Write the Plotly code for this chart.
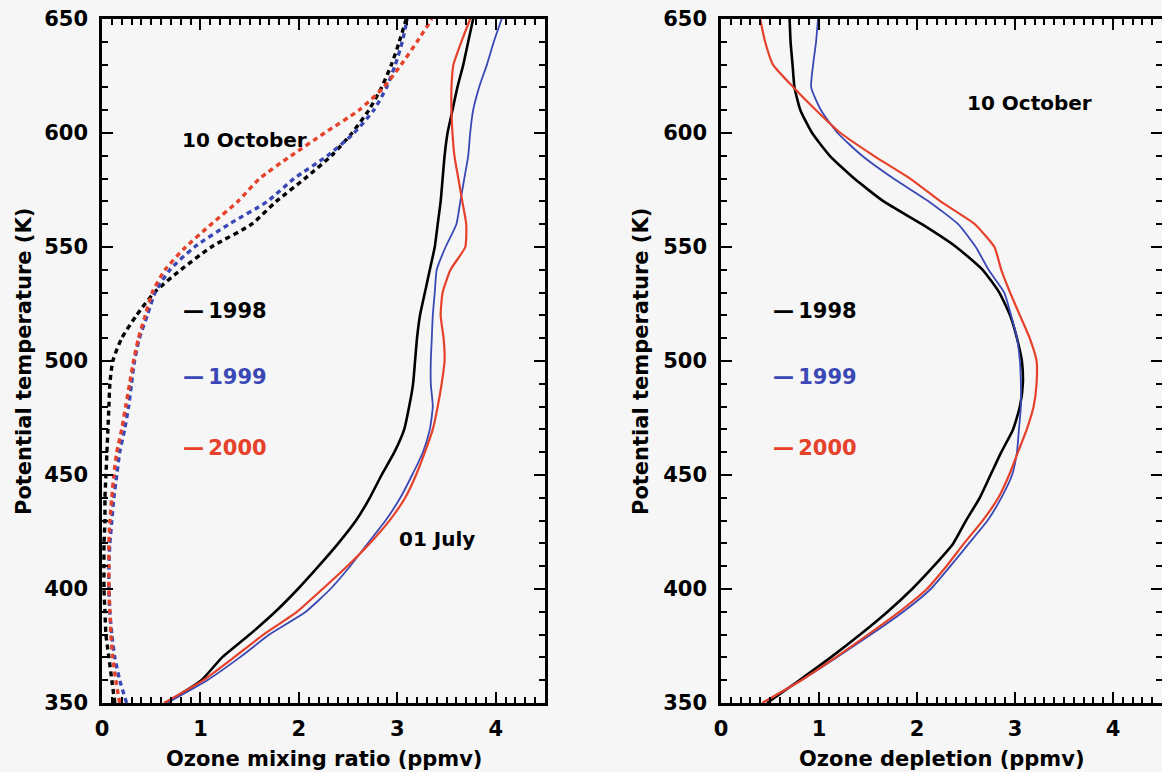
import plotly.graph_objects as go

# Potential temperature levels (K)
theta = [350, 360, 370, 380, 390, 400, 410, 420, 430, 440, 450, 460, 470, 480, 490,
         500, 510, 520, 530, 540, 550, 560, 570, 580, 590, 600, 610, 620, 630, 640, 650]

# Left panel: ozone mixing ratio (ppmv), 10 October (dotted)
oct_1998 = [0.13, 0.10, 0.07, 0.04, 0.03, 0.02, 0.02, 0.02, 0.03, 0.03, 0.04, 0.05, 0.06, 0.07, 0.08,
            0.11, 0.20, 0.35, 0.53, 0.80, 1.11, 1.52, 1.77, 2.06, 2.33, 2.54, 2.71, 2.84, 2.94, 3.02, 3.09]
oct_1999 = [0.25, 0.18, 0.13, 0.10, 0.08, 0.07, 0.07, 0.08, 0.10, 0.12, 0.15, 0.18, 0.23, 0.27, 0.30,
            0.33, 0.38, 0.46, 0.54, 0.69, 0.94, 1.29, 1.68, 1.95, 2.29, 2.56, 2.76, 2.89, 2.98, 3.05, 3.10]
oct_2000 = [0.18, 0.14, 0.11, 0.09, 0.08, 0.07, 0.07, 0.07, 0.08, 0.10, 0.12, 0.15, 0.20, 0.24, 0.28,
            0.32, 0.37, 0.44, 0.51, 0.64, 0.85, 1.11, 1.38, 1.60, 1.92, 2.26, 2.61, 2.86, 3.04, 3.20, 3.35]

# Left panel: 01 July (solid)
jul_1998 = [0.65, 1.01, 1.22, 1.50, 1.76, 1.99, 2.20, 2.40, 2.58, 2.72, 2.84, 2.97, 3.07, 3.12, 3.16,
            3.18, 3.20, 3.23, 3.28, 3.33, 3.38, 3.41, 3.44, 3.46, 3.48, 3.51, 3.56, 3.61, 3.67, 3.72, 3.77]
jul_1999 = [0.66, 1.07, 1.40, 1.70, 2.07, 2.32, 2.52, 2.70, 2.88, 3.03, 3.15, 3.26, 3.33, 3.36, 3.34,
            3.34, 3.35, 3.36, 3.38, 3.40, 3.49, 3.60, 3.64, 3.68, 3.72, 3.74, 3.77, 3.83, 3.91, 3.98, 4.06]
jul_2000 = [0.63, 1.03, 1.34, 1.64, 1.98, 2.24, 2.49, 2.72, 2.92, 3.08, 3.19, 3.28, 3.36, 3.41, 3.45,
            3.48, 3.47, 3.44, 3.46, 3.54, 3.69, 3.70, 3.66, 3.62, 3.58, 3.56, 3.55, 3.55, 3.57, 3.65, 3.74]

# Right panel: ozone depletion (ppmv)
dep_1998 = [0.47, 0.80, 1.12, 1.42, 1.70, 1.95, 2.17, 2.37, 2.50, 2.64, 2.75, 2.86, 2.98, 3.05, 3.08,
            3.07, 3.02, 2.95, 2.84, 2.67, 2.40, 2.05, 1.66, 1.36, 1.11, 0.93, 0.81, 0.75, 0.73, 0.71, 0.70]
dep_1999 = [0.42, 0.82, 1.18, 1.53, 1.86, 2.14, 2.34, 2.53, 2.72, 2.86, 2.97, 3.02, 3.04, 3.06, 3.06,
            3.05, 3.02, 2.96, 2.89, 2.73, 2.60, 2.42, 2.12, 1.76, 1.44, 1.19, 1.02, 0.92, 0.94, 0.97, 0.99]
dep_2000 = [0.42, 0.82, 1.17, 1.50, 1.82, 2.10, 2.30, 2.48, 2.67, 2.83, 2.94, 3.03, 3.12, 3.19, 3.22,
            3.22, 3.15, 3.05, 2.95, 2.86, 2.79, 2.59, 2.24, 1.93, 1.56, 1.22, 0.97, 0.74, 0.53, 0.45, 0.40]

years = ["1998", "1999", "2000"]
colors = {"1998": "#000000", "1999": "#3a48b5", "2000": "#e5412b"}
widths = {"1998": 2.6, "1999": 1.8, "2000": 2.2}

FONT = "DejaVu Sans"
W, H = 1162, 772

fig = go.Figure()

oct_series = {"1998": oct_1998, "1999": oct_1999, "2000": oct_2000}
jul_series = {"1998": jul_1998, "1999": jul_1999, "2000": jul_2000}
dep_series = {"1998": dep_1998, "1999": dep_1999, "2000": dep_2000}

for y in years:
    fig.add_trace(go.Scatter(x=oct_series[y], y=theta, mode="lines", xaxis="x", yaxis="y",
                             line=dict(color=colors[y], width=3.4, dash="5px,4px",
                                       shape="spline", smoothing=0.6),
                             showlegend=False))
for y in years:
    fig.add_trace(go.Scatter(x=jul_series[y], y=theta, mode="lines", xaxis="x", yaxis="y",
                             line=dict(color=colors[y], width=widths[y], shape="spline", smoothing=0.5),
                             showlegend=False))
for y in years:
    fig.add_trace(go.Scatter(x=dep_series[y], y=theta, mode="lines", xaxis="x2", yaxis="y2",
                             line=dict(color=colors[y], width=widths[y], shape="spline", smoothing=0.5),
                             showlegend=False))

tickfont = dict(family=FONT, size=21, color="black", weight="bold")

def xaxis_cfg(domain, anchor):
    return dict(domain=domain, anchor=anchor, range=[0, 4.5], tickvals=[0, 1, 2, 3, 4],
                ticks="inside", ticklen=11, tickwidth=2, tickcolor="black",
                minor=dict(ticks="inside", ticklen=6, tickwidth=1.6, tickcolor="black", dtick=0.1,
                           showgrid=False),
                showline=True, linecolor="black", linewidth=2.5, mirror="ticks",
                showgrid=False, zeroline=False, tickfont=tickfont, ticklabelstandoff=5,
                automargin=False)

def yaxis_cfg(domain, anchor):
    return dict(domain=domain, anchor=anchor, range=[350, 650], tickvals=[350, 400, 450, 500, 550, 600, 650],
                ticks="inside", ticklen=11, tickwidth=2, tickcolor="black",
                minor=dict(ticks="inside", ticklen=6, tickwidth=1.6, tickcolor="black", dtick=10,
                           showgrid=False),
                showline=True, linecolor="black", linewidth=2.5, mirror="ticks",
                showgrid=False, zeroline=False, tickfont=tickfont, ticklabelstandoff=7,
                automargin=False)

ydom = [1 - 703 / H, 1 - 19 / H]
fig.update_layout(
    width=W, height=H, autosize=False,
    margin=dict(l=0, r=0, t=0, b=0, pad=0, autoexpand=False),
    paper_bgcolor="#f6f6f6", plot_bgcolor="#f6f6f6",
    xaxis=xaxis_cfg([102 / W, 545 / W], "y"),
    yaxis=yaxis_cfg(ydom, "x"),
    xaxis2=xaxis_cfg([721 / W, 1.0], "y2"),
    yaxis2=yaxis_cfg(ydom, "x2"),
)

lab = dict(family=FONT, size=21, color="black", weight="bold")
lab20 = dict(family=FONT, size=20, color="black", weight="bold")
ann = []
# axis titles
for txt, cx in [("Ozone mixing ratio (ppmv)", (102 + 545) / 2), ("Ozone depletion (ppmv)", (721 + 1162) / 2)]:
    ann.append(dict(text=txt, x=cx / W, y=1 - 759 / H, xanchor="center", yanchor="middle",
                    xref="paper", yref="paper", showarrow=False, font=lab))
for cx in [24, 641]:
    ann.append(dict(text="Potential temperature (K)", x=cx / W, y=1 - 362 / H, textangle=-90,
                    xanchor="center", yanchor="middle",
                    xref="paper", yref="paper", showarrow=False, font=lab))
# panel labels
ann.append(dict(text="10 October", x=1.45, y=597, xref="x", yref="y", showarrow=False, font=lab20))
ann.append(dict(text="01 July", x=3.40, y=422, xref="x", yref="y", showarrow=False, font=lab20))
ann.append(dict(text="10 October", x=3.15, y=613, xref="x2", yref="y2", showarrow=False, font=lab20))
# year labels
legend_y = {"1998": 522, "1999": 493, "2000": 462}
for xr, yr, x0 in [("x", "y", 0.80), ("x2", "y2", 0.51)]:
    for y in years:
        ann.append(dict(text="\u2014\u2009" + y, x=x0, y=legend_y[y], xref=xr, yref=yr,
                        xanchor="left", yanchor="middle", showarrow=False,
                        font=dict(family=FONT, size=21, color=colors[y], weight="bold")))
fig.update_layout(annotations=ann)

fig.write_html("out.html")
